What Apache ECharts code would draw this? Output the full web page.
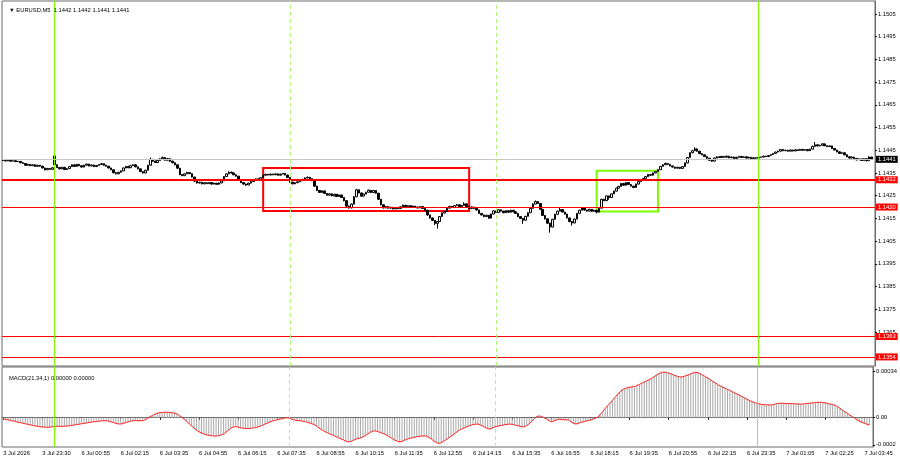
<!DOCTYPE html>
<html><head><meta charset="utf-8">
<script src="https://cdn.jsdelivr.net/npm/echarts@6/dist/echarts.min.js"></script>
<style>html,body{margin:0;padding:0;background:#fff}#c{width:900px;height:460px}</style>
</head><body><div id="c"></div>
<script>
const symbolTitle = '\u25BC EURUSD,M5  1.1442 1.1442 1.1441 1.1441';
const macdTitle = 'MACD(21,34,1) 0.00000 0.00000';
// trading sessions: day, first bar time, number of slots (last slot of 7 Jul is empty)
const sessions = [['3 Jul', '22:10', 21], ['6 Jul', '00:00', 287], ['7 Jul', '00:05', 48]];
const xTickLabels = ['3 Jul 2026','3 Jul 23:30','6 Jul 00:55','6 Jul 02:15','6 Jul 03:35','6 Jul 04:55','6 Jul 06:15','6 Jul 07:35','6 Jul 08:55','6 Jul 10:15','6 Jul 11:35','6 Jul 12:55','6 Jul 14:15','6 Jul 15:35','6 Jul 16:55','6 Jul 18:15','6 Jul 19:35','6 Jul 20:55','6 Jul 22:15','6 Jul 23:35','7 Jul 01:05','7 Jul 02:25','7 Jul 03:45'];
const priceTicks = [1.1365,1.1375,1.1385,1.1395,1.1405,1.1415,1.1425,1.1435,1.1445,1.1455,1.1465,1.1475,1.1485,1.1495,1.1505];
const macdTicks = [0.00034, 0, -0.0002];
const macdTickText = ['0.00034', '0.00', '-0.0002'];
const bidPrice = 1.1441;
const levelPrices = [1.1432, 1.1420, 1.1363, 1.1354];
const solidVLines = ['6 Jul 00:00', '7 Jul 00:05'];
const dashedVLines = ['6 Jul 08:00', '6 Jul 15:00'];
const redZone = ['6 Jul 07:05', '6 Jul 14:05', 1.14372, 1.14183];
const greenZone = ['6 Jul 18:25', '6 Jul 20:30', 1.14360, 1.14180];

const opens = [
1.14407,1.14405,1.14403,1.14406,1.14402,1.14404,1.14400,1.14401,1.14395,1.14392,
1.14384,1.14388,1.14382,1.14386,1.14379,1.14384,1.14380,1.14372,1.14364,1.14370,
1.14366,1.14425,1.14386,1.14374,1.14368,1.14375,1.14365,1.14369,1.14378,1.14386,
1.14379,1.14388,1.14382,1.14376,1.14384,1.14389,1.14381,1.14385,1.14378,1.14383,
1.14387,1.14391,1.14384,1.14380,1.14372,1.14364,1.14351,1.14346,1.14353,1.14359,
1.14372,1.14379,1.14373,1.14382,1.14386,1.14377,1.14368,1.14356,1.14350,1.14362,
1.14384,1.14410,1.14402,1.14396,1.14405,1.14412,1.14418,1.14406,1.14413,1.14402,
1.14395,1.14386,1.14371,1.14343,1.14338,1.14346,1.14352,1.14347,1.14332,1.14314,
1.14306,1.14309,1.14302,1.14307,1.14303,1.14308,1.14301,1.14305,1.14300,1.14306,
1.14315,1.14334,1.14346,1.14353,1.14350,1.14342,1.14336,1.14320,1.14308,1.14301,
1.14297,1.14305,1.14312,1.14318,1.14324,1.14320,1.14329,1.14340,1.14344,1.14341,
1.14345,1.14342,1.14346,1.14340,1.14345,1.14348,1.14341,1.14330,1.14310,1.14302,
1.14307,1.14311,1.14316,1.14322,1.14328,1.14331,1.14325,1.14316,1.14292,1.14273,
1.14264,1.14271,1.14260,1.14252,1.14258,1.14249,1.14256,1.14246,1.14253,1.14242,
1.14228,1.14204,1.14196,1.14213,1.14245,1.14276,1.14262,1.14248,1.14257,1.14265,
1.14274,1.14264,1.14273,1.14261,1.14234,1.14210,1.14196,1.14202,1.14195,1.14199,
1.14192,1.14197,1.14193,1.14201,1.14208,1.14202,1.14206,1.14198,1.14204,1.14200,
1.14196,1.14202,1.14194,1.14186,1.14165,1.14152,1.14141,1.14128,1.14136,1.14158,
1.14174,1.14180,1.14195,1.14203,1.14198,1.14206,1.14210,1.14201,1.14207,1.14214,
1.14202,1.14193,1.14200,1.14194,1.14187,1.14172,1.14165,1.14158,1.14164,1.14151,
1.14169,1.14183,1.14176,1.14188,1.14182,1.14175,1.14184,1.14177,1.14186,1.14179,
1.14172,1.14158,1.14150,1.14142,1.14159,1.14175,1.14194,1.14213,1.14224,1.14216,
1.14190,1.14163,1.14148,1.14129,1.14112,1.14146,1.14168,1.14182,1.14189,1.14178,
1.14169,1.14152,1.14136,1.14130,1.14147,1.14172,1.14186,1.14196,1.14187,1.14182,
1.14190,1.14181,1.14186,1.14178,1.14195,1.14234,1.14228,1.14249,1.14242,1.14258,
1.14270,1.14283,1.14291,1.14304,1.14296,1.14308,1.14299,1.14292,1.14286,1.14301,
1.14312,1.14319,1.14326,1.14334,1.14343,1.14340,1.14350,1.14356,1.14364,1.14379,
1.14386,1.14392,1.14388,1.14381,1.14376,1.14371,1.14375,1.14370,1.14378,1.14394,
1.14418,1.14439,1.14448,1.14456,1.14446,1.14435,1.14430,1.14422,1.14415,1.14406,
1.14402,1.14416,1.14421,1.14418,1.14423,1.14419,1.14424,1.14417,1.14420,1.14414,
1.14419,1.14423,1.14418,1.14421,1.14416,1.14419,1.14413,1.14417,1.14415,1.14419,
1.14420,1.14424,1.14422,1.14427,1.14431,1.14436,1.14442,1.14446,1.14453,1.14448,
1.14450,1.14446,1.14451,1.14447,1.14452,1.14449,1.14454,1.14450,1.14453,1.14448,
1.14455,1.14467,1.14474,1.14469,1.14472,1.14478,1.14470,1.14466,1.14469,1.14458,
1.14451,1.14443,1.14436,1.14439,1.14430,1.14421,1.14416,1.14420,1.14414,1.14408,
1.14412,1.14405,1.14413,1.14404,1.14420];
const closes = [
1.14405,1.14403,1.14406,1.14402,1.14404,1.14400,1.14401,1.14395,1.14392,1.14384,
1.14388,1.14382,1.14386,1.14379,1.14384,1.14380,1.14372,1.14364,1.14370,1.14366,
1.14373,1.14386,1.14374,1.14368,1.14375,1.14365,1.14369,1.14378,1.14386,1.14379,
1.14388,1.14382,1.14376,1.14384,1.14389,1.14381,1.14385,1.14378,1.14383,1.14387,
1.14391,1.14384,1.14380,1.14372,1.14364,1.14351,1.14346,1.14353,1.14359,1.14372,
1.14379,1.14373,1.14382,1.14386,1.14377,1.14368,1.14356,1.14350,1.14362,1.14384,
1.14410,1.14402,1.14396,1.14405,1.14412,1.14418,1.14406,1.14413,1.14402,1.14395,
1.14386,1.14371,1.14343,1.14338,1.14346,1.14352,1.14347,1.14332,1.14314,1.14306,
1.14309,1.14302,1.14307,1.14303,1.14308,1.14301,1.14305,1.14300,1.14306,1.14315,
1.14334,1.14346,1.14353,1.14350,1.14342,1.14336,1.14320,1.14308,1.14301,1.14297,
1.14305,1.14312,1.14318,1.14324,1.14320,1.14329,1.14340,1.14344,1.14341,1.14345,
1.14342,1.14346,1.14340,1.14345,1.14348,1.14341,1.14330,1.14310,1.14302,1.14307,
1.14311,1.14316,1.14322,1.14328,1.14331,1.14325,1.14316,1.14292,1.14273,1.14264,
1.14271,1.14260,1.14252,1.14258,1.14249,1.14256,1.14246,1.14253,1.14242,1.14228,
1.14204,1.14196,1.14213,1.14245,1.14276,1.14262,1.14248,1.14257,1.14265,1.14274,
1.14264,1.14273,1.14261,1.14234,1.14210,1.14196,1.14202,1.14195,1.14199,1.14192,
1.14197,1.14193,1.14201,1.14208,1.14202,1.14206,1.14198,1.14204,1.14200,1.14196,
1.14202,1.14194,1.14186,1.14165,1.14152,1.14141,1.14128,1.14136,1.14158,1.14174,
1.14180,1.14195,1.14203,1.14198,1.14206,1.14210,1.14201,1.14207,1.14214,1.14202,
1.14193,1.14200,1.14194,1.14187,1.14172,1.14165,1.14158,1.14164,1.14151,1.14169,
1.14183,1.14176,1.14188,1.14182,1.14175,1.14184,1.14177,1.14186,1.14179,1.14172,
1.14158,1.14150,1.14142,1.14159,1.14175,1.14194,1.14213,1.14224,1.14216,1.14190,
1.14163,1.14148,1.14129,1.14112,1.14146,1.14168,1.14182,1.14189,1.14178,1.14169,
1.14152,1.14136,1.14130,1.14147,1.14172,1.14186,1.14196,1.14187,1.14182,1.14190,
1.14181,1.14186,1.14178,1.14195,1.14234,1.14228,1.14249,1.14242,1.14258,1.14270,
1.14283,1.14291,1.14304,1.14296,1.14308,1.14299,1.14292,1.14286,1.14301,1.14312,
1.14319,1.14326,1.14334,1.14343,1.14340,1.14350,1.14356,1.14364,1.14379,1.14386,
1.14392,1.14388,1.14381,1.14376,1.14371,1.14375,1.14370,1.14378,1.14394,1.14418,
1.14439,1.14448,1.14456,1.14446,1.14435,1.14430,1.14422,1.14415,1.14406,1.14402,
1.14416,1.14421,1.14418,1.14423,1.14419,1.14424,1.14417,1.14420,1.14414,1.14419,
1.14423,1.14418,1.14421,1.14416,1.14419,1.14413,1.14417,1.14415,1.14419,1.14420,
1.14424,1.14422,1.14427,1.14431,1.14436,1.14442,1.14446,1.14453,1.14448,1.14450,
1.14446,1.14451,1.14447,1.14452,1.14449,1.14454,1.14450,1.14453,1.14448,1.14455,
1.14467,1.14474,1.14469,1.14472,1.14478,1.14470,1.14466,1.14469,1.14458,1.14451,
1.14443,1.14436,1.14439,1.14430,1.14421,1.14416,1.14420,1.14414,1.14408,1.14412,
1.14405,1.14413,1.14404,1.14420,1.14410];
const highs = [
1.14409,1.14407,1.14408,1.14407,1.14406,1.14405,1.14403,1.14402,1.14397,1.14393,
1.14390,1.14389,1.14388,1.14387,1.14386,1.14385,1.14381,1.14373,1.14372,1.14371,
1.14375,1.14428,1.14388,1.14376,1.14377,1.14376,1.14371,1.14380,1.14388,1.14387,
1.14390,1.14389,1.14383,1.14386,1.14391,1.14390,1.14387,1.14386,1.14385,1.14389,
1.14393,1.14392,1.14386,1.14381,1.14373,1.14365,1.14353,1.14355,1.14361,1.14374,
1.14381,1.14380,1.14384,1.14388,1.14387,1.14378,1.14369,1.14357,1.14364,1.14386,
1.14418,1.14412,1.14404,1.14407,1.14415,1.14422,1.14419,1.14416,1.14414,1.14404,
1.14396,1.14387,1.14372,1.14345,1.14348,1.14355,1.14353,1.14348,1.14333,1.14315,
1.14311,1.14310,1.14309,1.14308,1.14310,1.14309,1.14307,1.14306,1.14308,1.14318,
1.14336,1.14348,1.14357,1.14356,1.14351,1.14343,1.14337,1.14321,1.14309,1.14303,
1.14307,1.14314,1.14320,1.14326,1.14325,1.14331,1.14342,1.14346,1.14345,1.14347,
1.14346,1.14348,1.14347,1.14347,1.14350,1.14349,1.14342,1.14331,1.14311,1.14309,
1.14313,1.14318,1.14324,1.14330,1.14334,1.14332,1.14326,1.14317,1.14293,1.14275,
1.14273,1.14272,1.14261,1.14260,1.14259,1.14258,1.14257,1.14255,1.14254,1.14243,
1.14229,1.14206,1.14215,1.14248,1.14280,1.14277,1.14263,1.14259,1.14267,1.14277,
1.14275,1.14275,1.14274,1.14262,1.14235,1.14211,1.14204,1.14203,1.14201,1.14200,
1.14199,1.14198,1.14203,1.14211,1.14209,1.14208,1.14207,1.14206,1.14205,1.14201,
1.14204,1.14203,1.14195,1.14187,1.14166,1.14153,1.14142,1.14138,1.14160,1.14176,
1.14182,1.14197,1.14205,1.14204,1.14208,1.14213,1.14211,1.14209,1.14221,1.14215,
1.14203,1.14202,1.14201,1.14195,1.14188,1.14174,1.14166,1.14166,1.14165,1.14171,
1.14185,1.14184,1.14190,1.14189,1.14183,1.14186,1.14185,1.14188,1.14187,1.14180,
1.14173,1.14159,1.14151,1.14161,1.14177,1.14196,1.14216,1.14229,1.14226,1.14217,
1.14191,1.14164,1.14149,1.14131,1.14148,1.14170,1.14184,1.14198,1.14190,1.14179,
1.14170,1.14153,1.14138,1.14149,1.14174,1.14188,1.14201,1.14197,1.14188,1.14192,
1.14191,1.14188,1.14187,1.14197,1.14237,1.14236,1.14251,1.14250,1.14260,1.14272,
1.14285,1.14293,1.14306,1.14306,1.14310,1.14309,1.14300,1.14293,1.14303,1.14314,
1.14321,1.14328,1.14336,1.14345,1.14344,1.14352,1.14358,1.14367,1.14381,1.14389,
1.14396,1.14393,1.14389,1.14382,1.14377,1.14377,1.14376,1.14380,1.14396,1.14420,
1.14441,1.14452,1.14463,1.14458,1.14447,1.14437,1.14431,1.14423,1.14416,1.14408,
1.14418,1.14423,1.14422,1.14425,1.14424,1.14426,1.14425,1.14422,1.14421,1.14421,
1.14425,1.14424,1.14423,1.14422,1.14421,1.14420,1.14419,1.14418,1.14421,1.14422,
1.14426,1.14425,1.14429,1.14433,1.14438,1.14444,1.14448,1.14455,1.14454,1.14452,
1.14451,1.14453,1.14452,1.14454,1.14453,1.14456,1.14455,1.14455,1.14454,1.14457,
1.14470,1.14486,1.14476,1.14474,1.14481,1.14479,1.14471,1.14471,1.14470,1.14459,
1.14452,1.14444,1.14441,1.14440,1.14431,1.14422,1.14422,1.14421,1.14415,1.14414,
1.14413,1.14415,1.14414,1.14424,1.14420];
const lows = [
1.14403,1.14401,1.14402,1.14400,1.14401,1.14398,1.14398,1.14393,1.14390,1.14382,
1.14383,1.14380,1.14381,1.14377,1.14378,1.14378,1.14370,1.14361,1.14363,1.14364,
1.14365,1.14383,1.14372,1.14366,1.14367,1.14363,1.14363,1.14368,1.14377,1.14377,
1.14378,1.14380,1.14374,1.14375,1.14383,1.14379,1.14380,1.14376,1.14377,1.14382,
1.14386,1.14382,1.14378,1.14370,1.14362,1.14349,1.14344,1.14345,1.14352,1.14358,
1.14371,1.14371,1.14372,1.14381,1.14375,1.14366,1.14354,1.14347,1.14349,1.14361,
1.14383,1.14400,1.14394,1.14395,1.14404,1.14410,1.14404,1.14405,1.14400,1.14393,
1.14384,1.14369,1.14340,1.14336,1.14337,1.14345,1.14345,1.14330,1.14311,1.14303,
1.14304,1.14300,1.14301,1.14301,1.14302,1.14299,1.14300,1.14298,1.14299,1.14305,
1.14314,1.14333,1.14345,1.14348,1.14340,1.14334,1.14318,1.14305,1.14298,1.14294,
1.14296,1.14304,1.14311,1.14317,1.14318,1.14319,1.14328,1.14339,1.14339,1.14340,
1.14340,1.14341,1.14338,1.14339,1.14344,1.14339,1.14328,1.14307,1.14300,1.14301,
1.14306,1.14310,1.14315,1.14321,1.14327,1.14323,1.14314,1.14289,1.14270,1.14262,
1.14263,1.14258,1.14250,1.14251,1.14247,1.14248,1.14244,1.14245,1.14240,1.14225,
1.14200,1.14193,1.14195,1.14212,1.14244,1.14260,1.14246,1.14247,1.14256,1.14264,
1.14262,1.14263,1.14259,1.14231,1.14207,1.14194,1.14195,1.14193,1.14194,1.14190,
1.14191,1.14191,1.14192,1.14200,1.14200,1.14201,1.14196,1.14197,1.14198,1.14194,
1.14195,1.14192,1.14184,1.14162,1.14149,1.14138,1.14121,1.14105,1.14135,1.14157,
1.14172,1.14179,1.14194,1.14196,1.14197,1.14205,1.14199,1.14200,1.14206,1.14200,
1.14191,1.14192,1.14192,1.14185,1.14170,1.14163,1.14155,1.14157,1.14148,1.14150,
1.14168,1.14174,1.14175,1.14180,1.14173,1.14174,1.14175,1.14176,1.14177,1.14170,
1.14155,1.14147,1.14126,1.14141,1.14158,1.14174,1.14193,1.14212,1.14214,1.14188,
1.14160,1.14145,1.14125,1.14087,1.14110,1.14145,1.14167,1.14181,1.14176,1.14167,
1.14150,1.14133,1.14118,1.14129,1.14146,1.14171,1.14185,1.14185,1.14180,1.14181,
1.14179,1.14180,1.14172,1.14176,1.14194,1.14226,1.14227,1.14232,1.14241,1.14257,
1.14269,1.14282,1.14290,1.14294,1.14295,1.14297,1.14290,1.14283,1.14285,1.14300,
1.14311,1.14318,1.14325,1.14333,1.14338,1.14339,1.14349,1.14355,1.14363,1.14378,
1.14385,1.14386,1.14379,1.14374,1.14368,1.14370,1.14367,1.14369,1.14377,1.14393,
1.14417,1.14437,1.14447,1.14444,1.14433,1.14428,1.14420,1.14412,1.14403,1.14399,
1.14401,1.14415,1.14416,1.14417,1.14417,1.14418,1.14415,1.14416,1.14412,1.14413,
1.14418,1.14416,1.14417,1.14414,1.14415,1.14411,1.14412,1.14413,1.14414,1.14418,
1.14419,1.14420,1.14421,1.14426,1.14430,1.14435,1.14441,1.14445,1.14446,1.14447,
1.14444,1.14445,1.14445,1.14446,1.14447,1.14448,1.14448,1.14449,1.14446,1.14447,
1.14454,1.14466,1.14467,1.14468,1.14471,1.14468,1.14464,1.14465,1.14456,1.14449,
1.14441,1.14434,1.14435,1.14428,1.14419,1.14414,1.14415,1.14412,1.14405,1.14407,
1.14403,1.14404,1.14401,1.14403,1.14410];
const macd = [
-0.000010,-0.000013,-0.000017,-0.000020,-0.000024,-0.000028,-0.000033,-0.000037,-0.000041,-0.000045,
-0.000049,-0.000053,-0.000057,-0.000061,-0.000064,-0.000067,-0.000069,-0.000070,-0.000071,-0.000070,
-0.000067,-0.000063,-0.000063,-0.000064,-0.000064,-0.000063,-0.000062,-0.000060,-0.000057,-0.000054,
-0.000051,-0.000048,-0.000045,-0.000042,-0.000039,-0.000036,-0.000033,-0.000030,-0.000028,-0.000026,
-0.000024,-0.000023,-0.000022,-0.000025,-0.000030,-0.000036,-0.000042,-0.000046,-0.000047,-0.000043,
-0.000037,-0.000031,-0.000026,-0.000022,-0.000021,-0.000022,-0.000023,-0.000022,-0.000015,-0.000005,
0.000007,0.000017,0.000026,0.000033,0.000037,0.000039,0.000040,0.000040,0.000039,0.000037,
0.000034,0.000028,0.000016,0.000003,-0.000012,-0.000028,-0.000044,-0.000061,-0.000077,-0.000092,
-0.000104,-0.000113,-0.000120,-0.000126,-0.000130,-0.000133,-0.000135,-0.000136,-0.000133,-0.000128,
-0.000121,-0.000108,-0.000093,-0.000079,-0.000068,-0.000066,-0.000070,-0.000075,-0.000078,-0.000079,
-0.000080,-0.000079,-0.000077,-0.000073,-0.000069,-0.000064,-0.000056,-0.000047,-0.000039,-0.000031,
-0.000025,-0.000020,-0.000015,-0.000011,-0.000007,-0.000003,0.000000,-0.000005,-0.000012,-0.000017,
-0.000020,-0.000022,-0.000025,-0.000028,-0.000032,-0.000038,-0.000044,-0.000050,-0.000062,-0.000076,
-0.000088,-0.000098,-0.000108,-0.000116,-0.000124,-0.000132,-0.000140,-0.000148,-0.000156,-0.000164,
-0.000173,-0.000179,-0.000176,-0.000168,-0.000159,-0.000154,-0.000150,-0.000142,-0.000132,-0.000120,
-0.000108,-0.000100,-0.000097,-0.000102,-0.000109,-0.000116,-0.000122,-0.000132,-0.000143,-0.000155,
-0.000166,-0.000174,-0.000179,-0.000175,-0.000167,-0.000159,-0.000153,-0.000149,-0.000145,-0.000141,
-0.000138,-0.000136,-0.000135,-0.000136,-0.000145,-0.000158,-0.000172,-0.000184,-0.000190,-0.000185,
-0.000174,-0.000162,-0.000150,-0.000138,-0.000125,-0.000111,-0.000098,-0.000087,-0.000079,-0.000071,
-0.000063,-0.000056,-0.000051,-0.000048,-0.000047,-0.000053,-0.000062,-0.000072,-0.000081,-0.000084,
-0.000076,-0.000067,-0.000063,-0.000059,-0.000055,-0.000052,-0.000049,-0.000047,-0.000049,-0.000053,
-0.000058,-0.000063,-0.000067,-0.000067,-0.000058,-0.000044,-0.000026,-0.000007,0.000008,0.000013,
0.000009,0.000000,-0.000010,-0.000020,-0.000030,-0.000024,-0.000017,-0.000012,-0.000013,-0.000015,
-0.000016,-0.000017,-0.000030,-0.000042,-0.000047,-0.000043,-0.000036,-0.000030,-0.000025,-0.000022,
-0.000017,-0.000011,-0.000004,0.000003,0.000025,0.000046,0.000067,0.000088,0.000107,0.000128,
0.000150,0.000170,0.000190,0.000206,0.000215,0.000221,0.000225,0.000228,0.000231,0.000238,
0.000246,0.000255,0.000264,0.000272,0.000280,0.000291,0.000303,0.000315,0.000326,0.000335,
0.000337,0.000335,0.000330,0.000324,0.000316,0.000309,0.000303,0.000300,0.000304,0.000310,
0.000317,0.000324,0.000331,0.000335,0.000332,0.000324,0.000314,0.000303,0.000293,0.000280,
0.000268,0.000258,0.000246,0.000235,0.000226,0.000218,0.000209,0.000201,0.000192,0.000183,
0.000174,0.000165,0.000156,0.000146,0.000136,0.000127,0.000119,0.000112,0.000106,0.000102,
0.000098,0.000096,0.000095,0.000094,0.000094,0.000098,0.000103,0.000106,0.000107,0.000106,
0.000105,0.000105,0.000104,0.000103,0.000102,0.000101,0.000100,0.000102,0.000104,0.000106,
0.000108,0.000110,0.000112,0.000114,0.000114,0.000112,0.000109,0.000105,0.000101,0.000097,
0.000092,0.000082,0.000069,0.000056,0.000043,0.000033,0.000020,0.000008,-0.000004,-0.000017,
-0.000027,-0.000035,-0.000042,-0.000048,-0.000054];

// ---- build categories (bar times) ----
const categories = [];
sessions.forEach(([day, start, count]) => {
  const [h, m] = start.split(':').map(Number);
  for (let k = 0; k < count; k++) {
    const t = h * 60 + m + 5 * k;
    categories.push(day + ' ' + String(Math.floor(t / 60)).padStart(2, '0') + ':' + String(t % 60).padStart(2, '0'));
  }
});

const FONT = '"Liberation Sans", Arial, sans-serif';
const FS = 5.8;
const candleData = closes.map((c, i) => [opens[i], c, lows[i], highs[i]]);
const tickSet = new Set(xTickLabels);
const showX = (idx, val) => idx === 0 || tickSet.has(val);

function priceLabel(bg) {
  return { show: true, position: 'end', distance: 1, formatter: p => Number(p.value).toFixed(4),
    backgroundColor: bg, color: '#fff', padding: [1, 2, 0, 2], fontSize: FS, fontFamily: FONT };
}
function vLineItems() {
  return solidVLines.map(t => ({ xAxis: t, label: { show: false }, lineStyle: { color: '#7cfc00', width: 1, type: 'solid' } }))
    .concat(dashedVLines.map(t => ({ xAxis: t, label: { show: false }, lineStyle: { color: '#b5f27a', width: 1, type: [4, 3] } })));
}
// one invisible host series per horizontal level, so each line keeps its own colour
function levelHost(price, color, width, labelBg) {
  return { type: 'line', xAxisIndex: 0, yAxisIndex: 0, data: closes, symbol: 'none', silent: true, z: 1,
    color: color, lineStyle: { opacity: 0, width: 0 },
    markLine: { silent: true, symbol: ['none', 'none'], precision: 5,
      lineStyle: { color: color, width: width, type: 'solid', opacity: 1 },
      data: [{ yAxis: price, label: priceLabel(labelBg) }] } };
}
const levelWidths = [2, 1, 1, 1];

const chart = echarts.init(document.getElementById('c'), null, { renderer: 'canvas' });
chart.setOption({
  animation: false,
  backgroundColor: '#ffffff',
  title: [
    { text: symbolTitle, left: 4, top: 2, textStyle: { fontSize: FS, fontWeight: 'normal', color: '#000', fontFamily: FONT } },
    { text: macdTitle, left: 4, top: 370, textStyle: { fontSize: FS, fontWeight: 'normal', color: '#000', fontFamily: FONT } }
  ],
  grid: [
    { left: 2, right: 25, top: 1, height: 365, show: true, borderColor: '#6a6a6a', borderWidth: 1, backgroundColor: 'transparent' },
    { left: 2, right: 25, top: 367, height: 80, show: true, borderColor: '#6a6a6a', borderWidth: 1, backgroundColor: 'transparent' }
  ],
  xAxis: [
    { type: 'category', gridIndex: 0, data: categories, axisLine: { show: false }, axisTick: { show: false }, axisLabel: { show: false }, splitLine: { show: false } },
    { type: 'category', gridIndex: 1, data: categories,
      axisLine: { show: true, lineStyle: { color: '#6a6a6a' } },
      axisTick: { show: true, length: 2, alignWithLabel: true, interval: showX, lineStyle: { color: '#000' } },
      axisLabel: { show: true, interval: showX, align: 'left', margin: 3, fontSize: FS, color: '#000', fontFamily: FONT,
        formatter: (v, idx) => idx === 0 ? xTickLabels[0] : v },
      splitLine: { show: false } }
  ],
  yAxis: [
    { type: 'value', gridIndex: 0, position: 'right', min: 1.1350, max: 1.151072,
      axisLine: { show: true, lineStyle: { color: '#6a6a6a' } },
      axisTick: { show: true, length: 2, customValues: priceTicks, lineStyle: { color: '#000' } },
      axisLabel: { customValues: priceTicks, formatter: v => v.toFixed(4), margin: 3, fontSize: FS, color: '#000', fontFamily: FONT },
      splitLine: { show: false } },
    { type: 'value', gridIndex: 1, position: 'right', min: -0.0002166, max: 0.0003747,
      axisLine: { show: true, lineStyle: { color: '#6a6a6a' } },
      axisTick: { show: true, length: 2, customValues: macdTicks, lineStyle: { color: '#000' } },
      axisLabel: { customValues: macdTicks, formatter: v => macdTickText[macdTicks.findIndex(t => Math.abs(t - v) < 1e-9)] || '',
        margin: 3, fontSize: FS, color: '#000', fontFamily: FONT },
      splitLine: { show: false } }
  ],
  series: [
    levelHost(bidPrice, '#c8c8c8', 1, '#000000'),
    ...levelPrices.map((p, k) => levelHost(p, '#ff0000', levelWidths[k], '#ff0000')),
    { type: 'candlestick', xAxisIndex: 0, yAxisIndex: 0, data: candleData, barWidth: 2, z: 3,
      itemStyle: { color: '#ffffff', color0: '#000000', borderColor: '#000000', borderColor0: '#000000', borderWidth: 1 },
      markLine: { silent: true, symbol: ['none', 'none'], data: vLineItems() },
      markArea: { silent: true, data: [
        [{ xAxis: redZone[0], yAxis: redZone[2], itemStyle: { color: 'rgba(0,0,0,0)', borderColor: '#ff0000', borderWidth: 2 } }, { xAxis: redZone[1], yAxis: redZone[3] }],
        [{ xAxis: greenZone[0], yAxis: greenZone[2], itemStyle: { color: 'rgba(0,0,0,0)', borderColor: '#7cfc00', borderWidth: 2 } }, { xAxis: greenZone[1], yAxis: greenZone[3] }]
      ] } },
    { type: 'bar', xAxisIndex: 1, yAxisIndex: 1, data: macd, barWidth: 1, itemStyle: { color: '#a8a8a8' },
      markLine: { silent: true, symbol: ['none', 'none'], precision: 8, data: vLineItems() } },
    { type: 'line', xAxisIndex: 1, yAxisIndex: 1, data: macd, showSymbol: false, symbol: 'none',
      lineStyle: { color: '#ff2020', width: 1 } }
  ]
});
</script>
</body></html>
